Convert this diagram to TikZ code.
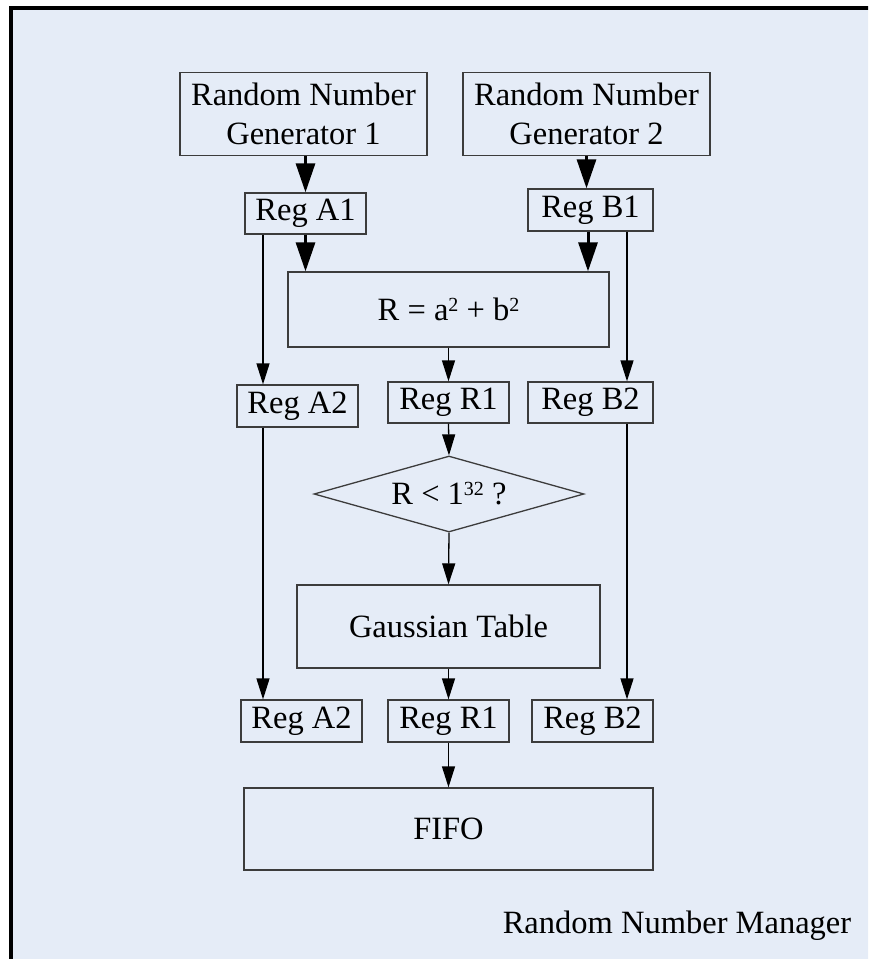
\documentclass[tikz,border=0pt]{standalone}
\usepackage{fontspec}
\setmainfont{Liberation Serif}
\usetikzlibrary{arrows.meta,shapes.geometric}
\definecolor{bgblue}{RGB}{229,236,247}
\definecolor{boxline}{RGB}{60,60,60}
\newcommand{\mysup}[1]{\raisebox{9pt}{\fontsize{20}{20}\selectfont #1}}
\tikzset{
  blk/.style={draw=boxline,line width=1.3pt,rectangle,inner sep=0pt,align=center,
    font=\fontsize{32.5}{39}\selectfont},
  thinarrow/.style={draw=black,line width=1.3pt,-{Triangle[length=21pt,width=13pt]}},
  thickarrow/.style={draw=black,line width=3pt,-{Triangle[length=29pt,width=19pt]}},
}
\begin{document}
\begin{tikzpicture}[x=1pt,y=-1pt]
\useasboundingbox (0,0) rectangle (868,959);
\clip (0,0) rectangle (868,959);
\draw[line width=3.5pt,fill=bgblue] (11,8) rectangle (900,1000);

\node[blk,minimum width=247pt,minimum height=83pt] (rng1) at (303.5,114) {Random Number\\Generator 1};
\node[blk,minimum width=247pt,minimum height=83pt] (rng2) at (586.5,114) {Random Number\\Generator 2};
\node[blk,minimum width=121pt,minimum height=41pt] (rega1) at (305.5,213.5) {Reg A1};
\node[blk,minimum width=125pt,minimum height=42pt] (regb1) at (590.5,210) {Reg B1};
\node[blk,minimum width=321pt,minimum height=75pt] (rbox) at (448.5,309.5) {R = a\mysup{2} + b\mysup{2}};
\node[blk,minimum width=121pt,minimum height=42pt] (rega2) at (297.5,406) {Reg A2};
\node[blk,minimum width=121pt,minimum height=41pt] (regr1) at (448.5,402.5) {Reg R1};
\node[blk,minimum width=125pt,minimum height=41pt] (regb2) at (590.5,402.5) {Reg B2};
\node[blk,shape=diamond,aspect=3.5,minimum width=270pt,minimum height=76pt] (diam) at (449,494) {R < 1\mysup{32} ?};
\node[blk,minimum width=303pt,minimum height=83pt] (gauss) at (448.5,626.5) {Gaussian Table};
\node[blk,minimum width=121pt,minimum height=42pt] (rega2b) at (301.5,721) {Reg A2};
\node[blk,minimum width=121pt,minimum height=42pt] (regr1b) at (448.5,721) {Reg R1};
\node[blk,minimum width=121pt,minimum height=42pt] (regb2b) at (592.5,721) {Reg B2};
\node[blk,minimum width=409pt,minimum height=82pt] (fifo) at (448.5,829) {FIFO};
\node[font=\fontsize{32.5}{39}\selectfont,inner sep=0pt] (mgr) at (677,926) {Random Number Manager};

\coordinate (xa) at (263,0);
\coordinate (xb) at (627,0);
\coordinate (xbr) at (588,0);

\draw[thickarrow] (rega1.north |- rng1.south) -- (rega1.north);
\draw[thickarrow] (rng2.south) -- (rng2.south |- regb1.north);
\draw[thickarrow] (rega1.south) -- (rega1.south |- rbox.north);
\draw[thickarrow] (regb1.south -| xbr) -- (rbox.north -| xbr);

\draw[thinarrow] (rega1.south -| xa) -- (rega2.north -| xa);
\draw[thinarrow] (rega2.south -| xa) -- (rega2b.north -| xa);
\draw[thinarrow] (regb1.south -| xb) -- (regb2.north -| xb);
\draw[thinarrow] (regb2.south -| xb) -- (regb2b.north -| xb);

\draw[thinarrow] (rbox.south) -- (regr1.north);
\draw[thinarrow] (regr1.south) -- (diam.north);
\draw[thinarrow] (diam.south) -- (gauss.north);
\draw[thinarrow] (gauss.south) -- (regr1b.north);
\draw[thinarrow] (regr1b.south) -- (fifo.north);
\end{tikzpicture}
\end{document}
